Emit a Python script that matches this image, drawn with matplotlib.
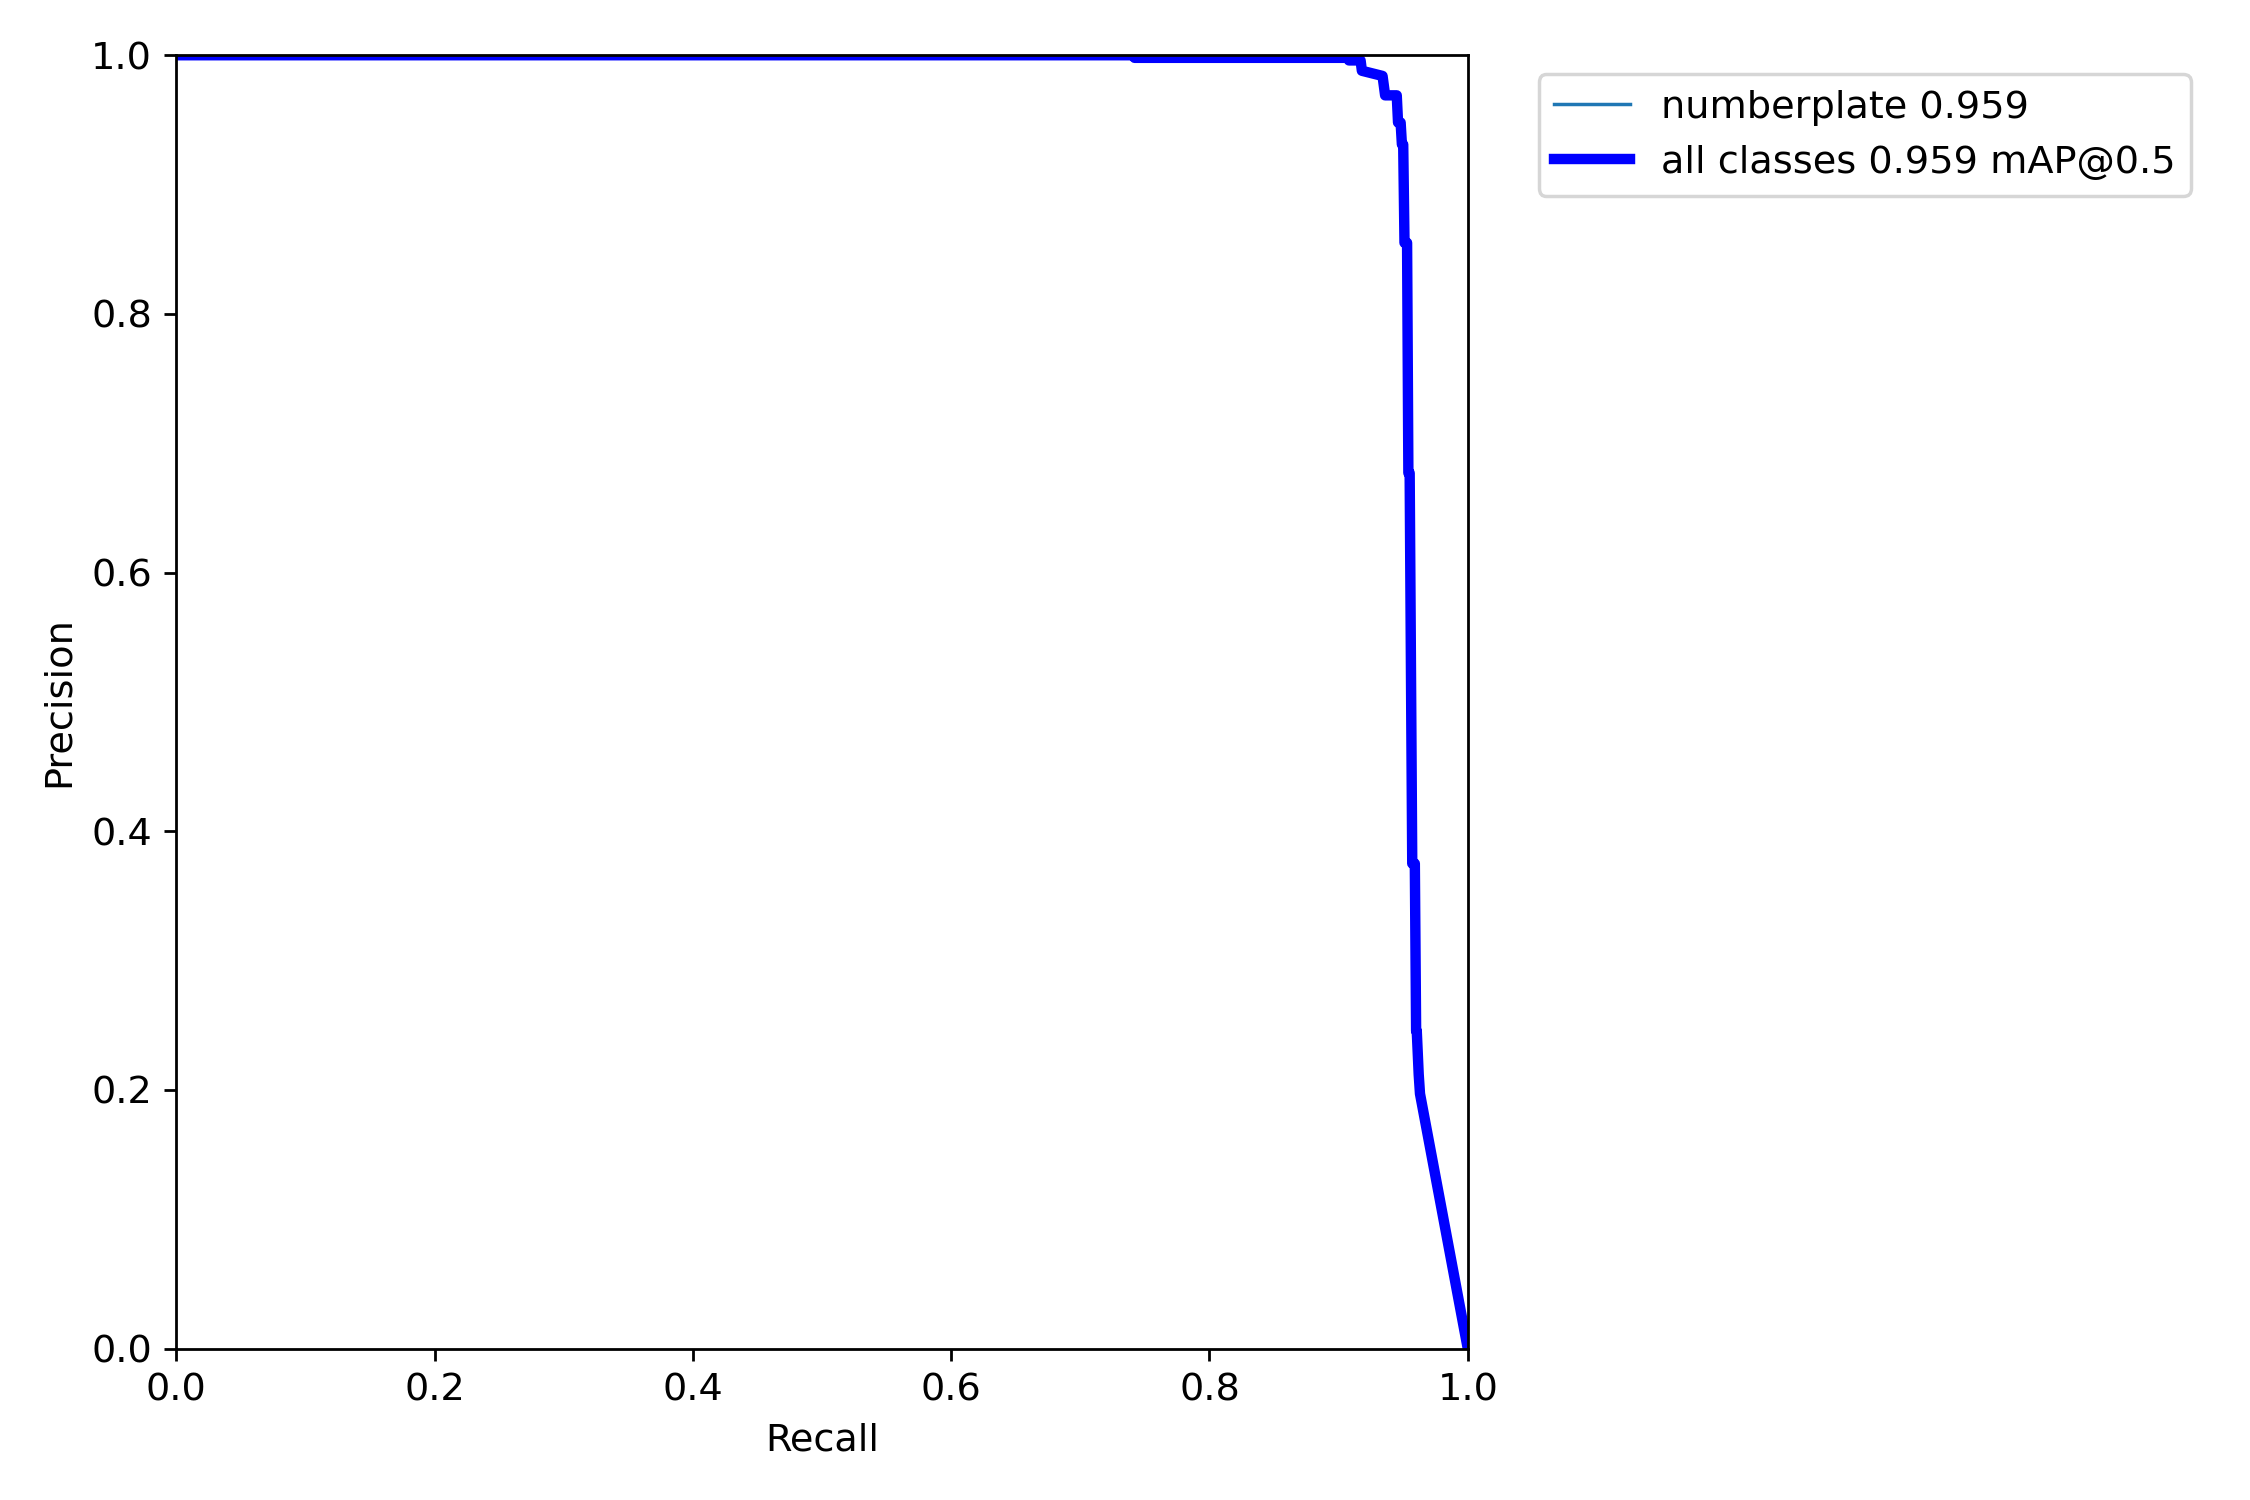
import matplotlib
matplotlib.use('Agg')
import matplotlib.pyplot as plt
import numpy as np

matplotlib.rc('font', **{'size': 11})

# PR curve breakpoints (recall, precision)
recall = [0.0, 0.741, 0.742, 0.907, 0.908, 0.917, 0.918, 0.934, 0.936, 0.945,
          0.946, 0.948, 0.949, 0.950, 0.951, 0.953, 0.954, 0.955, 0.957,
          0.959, 0.960, 0.9605, 0.962, 0.963, 1.0]
precision = [1.0, 1.0, 0.998, 0.998, 0.996, 0.996, 0.988, 0.984, 0.969, 0.969,
             0.948, 0.948, 0.931, 0.931, 0.855, 0.855, 0.677, 0.677, 0.375,
             0.375, 0.2455, 0.2455, 0.212, 0.197, 0.0]

class_names = ['numberplate']
class_ap = [0.959]
map50 = 0.959

px = np.array(recall)
py = np.array(precision)

fig, ax = plt.subplots(1, 1, figsize=(9, 6), tight_layout=True)
ax.plot(px, py, linewidth=1, label='%s %.3f' % (class_names[0], class_ap[0]))
ax.plot(px, py, linewidth=3, color='blue', label='all classes %.3f mAP@0.5' % map50)
ax.set_xlabel('Recall')
ax.set_ylabel('Precision')
ax.set_xlim(0, 1)
ax.set_ylim(0, 1)
plt.legend(bbox_to_anchor=(1.04, 1), loc="upper left")
fig.savefig('out.png', dpi=250)
plt.close()
